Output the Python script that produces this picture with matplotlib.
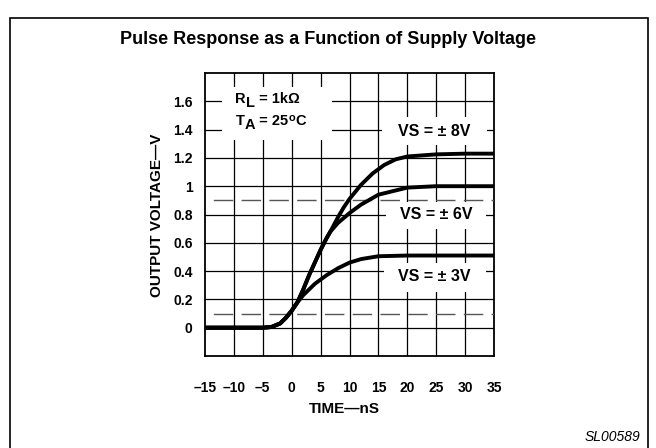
import matplotlib
matplotlib.use("Agg")
import matplotlib.pyplot as plt
from matplotlib.patches import Rectangle

plt.rcParams['font.family'] = ['Liberation Sans', 'DejaVu Sans']
plt.rcParams['lines.scale_dashes'] = False

# time axis (nS) and grid
x_ticks = [-15, -10, -5, 0, 5, 10, 15, 20, 25, 30, 35]
x_labels = ['\u201315', '\u201310', '\u20135', '0', '5', '10', '15', '20', '25', '30', '35']
y_ticks = [0, 0.2, 0.4, 0.6, 0.8, 1.0, 1.2, 1.4, 1.6]
y_labels = ['0', '0.2', '0.4', '0.6', '0.8', '1', '1.2', '1.4', '1.6']
y_grid = [-0.2, 0, 0.2, 0.4, 0.6, 0.8, 1.0, 1.2, 1.4, 1.6, 1.8]
dash_levels = [0.1, 0.9]

# pulse responses
t_8v = [-15, -5, -3.5, -2, -1, 0, 1, 2, 3, 4, 5, 6, 6.7, 8, 9, 10, 11, 12, 14, 16, 18, 20, 25, 30, 35]
v_8v = [0, 0, 0.005, 0.03, 0.07, 0.12, 0.18, 0.27, 0.37, 0.46, 0.55, 0.63, 0.68, 0.78, 0.85, 0.91, 0.96, 1.01, 1.09, 1.15, 1.19, 1.21, 1.225, 1.23, 1.23]
t_6v = [-15, -5, -3.5, -2, -1, 0, 1, 2, 3, 4, 5, 6, 6.7, 8, 10, 12, 15, 18, 20, 25, 30, 35]
v_6v = [0, 0, 0.005, 0.03, 0.07, 0.12, 0.18, 0.27, 0.37, 0.46, 0.55, 0.63, 0.68, 0.74, 0.81, 0.87, 0.94, 0.97, 0.99, 1.0, 1.0, 1.0]
t_3v = [-15, -5, -3.5, -2, -1, 0, 1, 2, 3, 4, 5, 6, 8, 10, 12, 15, 20, 25, 30, 35]
v_3v = [0, 0, 0.005, 0.03, 0.07, 0.12, 0.18, 0.23, 0.27, 0.31, 0.34, 0.37, 0.42, 0.46, 0.485, 0.505, 0.51, 0.51, 0.51, 0.51]


def rich_text(ax, x, y, parts, size):
    # parts: (text, baseline shift in points, size factor)
    prev = ax.text(x, y, parts[0][0], fontsize=size * parts[0][2], fontweight='bold',
                   ha='left', va='baseline', zorder=6)
    last_dy = parts[0][1]
    for s, dy, f in parts[1:]:
        prev = ax.annotate(s, xy=(1, 0), xycoords=prev, xytext=(0, dy - last_dy),
                           textcoords='offset points', ha='left', va='bottom',
                           fontsize=size * f, fontweight='bold', zorder=6)
        last_dy = dy
    return prev


fig = plt.figure(figsize=(6.56, 4.48), dpi=100)
ax = fig.add_axes([205 / 656, 1 - 356 / 448, 289 / 656, 283 / 448])

# outer frame, open at the bottom edge of the page
fig.add_artist(Rectangle((10 / 656, -0.1), 638 / 656, 1.08 - 9 / 448, transform=fig.transFigure,
                         fill=False, edgecolor='black', linewidth=1.2))

for xv in x_ticks[1:-1]:
    ax.axvline(xv, color='black', lw=0.9, zorder=1)
for yv in y_grid[1:-1]:
    ax.axhline(yv, color='black', lw=0.9, zorder=1)

# white blanks behind the annotations
for (x0, x1, y0, y1) in [(-12.1, 6.9, 1.33, 1.70), (15.7, 33.8, 1.29, 1.49),
                         (16.3, 33.6, 0.70, 0.885), (16.0, 33.6, 0.25, 0.46)]:
    ax.add_patch(Rectangle((x0, y0), x1 - x0, y1 - y0, facecolor='white', edgecolor='none', zorder=2))

for yv in dash_levels:
    ax.axhline(yv, color='#555555', lw=1.0, linestyle=(14, (14, 6)), zorder=3)

ax.plot(t_8v, v_8v, color='black', lw=2.8, solid_capstyle='butt', zorder=4)
ax.plot(t_6v, v_6v, color='black', lw=2.8, solid_capstyle='butt', zorder=4)
ax.plot(t_3v, v_3v, color='black', lw=2.8, solid_capstyle='butt', zorder=4)

ax.set_xlim(x_ticks[0], x_ticks[-1])
ax.set_ylim(y_grid[0], y_grid[-1])
ax.set_xticks(x_ticks)
ax.set_xticklabels(x_labels, fontsize=10, fontweight='bold')
ax.set_yticks(y_ticks)
ax.set_yticklabels(y_labels, fontsize=10, fontweight='bold')
ax.tick_params(length=0, axis='x', pad=18)
ax.tick_params(length=0, axis='y', pad=9)
for sp in ax.spines.values():
    sp.set_linewidth(1.3)

rich_text(ax, -9.8, 1.585, [('R', 0, 1), ('L', -2.5, 1), (' = 1k\u03a9', 0, 1)], 10.5)
rich_text(ax, -9.7, 1.43, [('T', 0, 1), ('A', -2.5, 1), (' = 25', 0, 1), ('o', 4, 0.75), ('C', 0, 1)], 10.5)

for (xt, yt, lab) in [(24.7, 1.39, 'VS = \u00b1 8V'), (25.0, 0.80, 'VS = \u00b1 6V'), (24.7, 0.36, 'VS = \u00b1 3V')]:
    ax.text(xt, yt, lab, fontsize=11.5, fontweight='bold', ha='center', va='center', zorder=6)

fig.text(328 / 656, 1 - 40 / 448, 'Pulse Response as a Function of Supply Voltage',
         fontsize=13, fontweight='bold', ha='center', va='center')
fig.text(157 / 656, 1 - 215 / 448, 'OUTPUT VOLTAGE\u2014V', fontsize=11, fontweight='bold',
         rotation=90, ha='center', va='center')
fig.text(344 / 656, 1 - 409 / 448, 'TIME\u2014nS', fontsize=11, fontweight='bold',
         ha='center', va='center')
fig.text(640 / 656, 1 - 437 / 448, 'SL00589', fontsize=10, fontstyle='italic',
         ha='right', va='center')

fig.savefig('out.png', dpi=100)
